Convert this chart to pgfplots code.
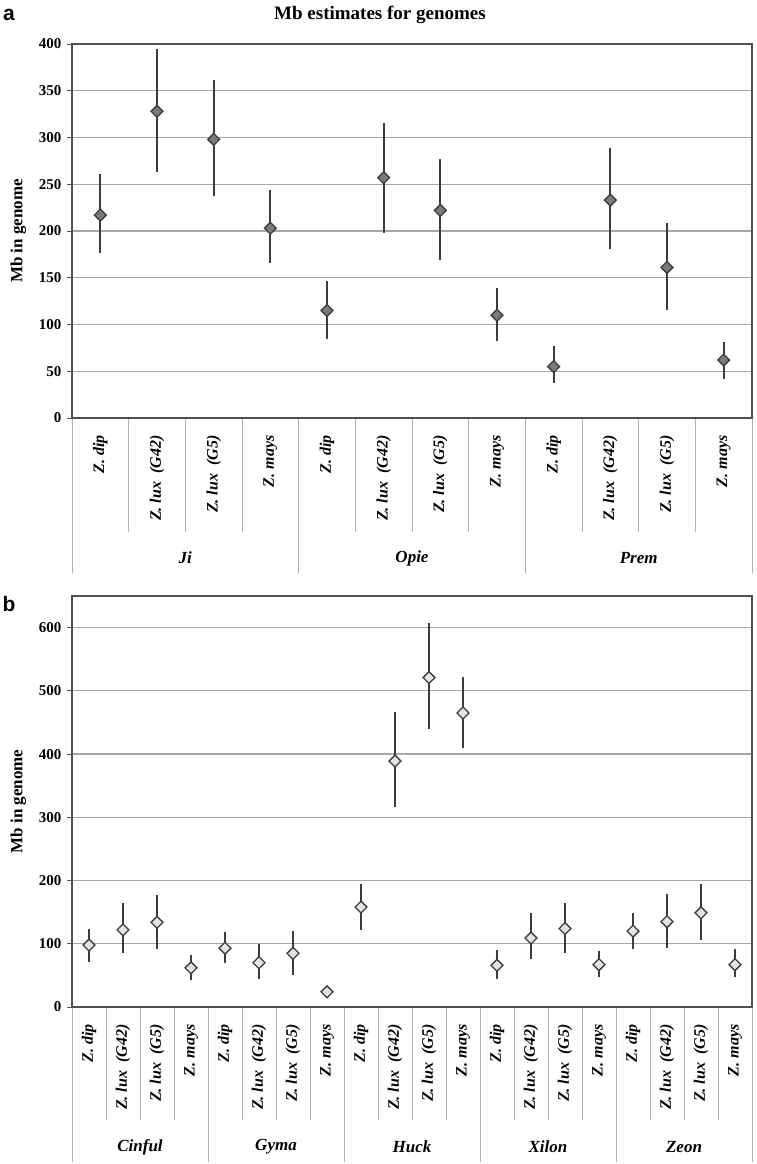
\documentclass[border=0pt]{standalone}
\usepackage{pgfplots}
\usepackage{pgfplotstable}
\pgfplotsset{compat=1.18}
\usepackage{fontspec}
\setmainfont{Liberation Serif}
\newfontfamily\sansf{Liberation Sans}
\definecolor{gridc}{HTML}{A8A8A8}
\definecolor{sepc}{HTML}{B4B4B4}
\definecolor{errc}{HTML}{3C3C3C}
\definecolor{markA}{HTML}{7A7A7A}
\definecolor{markB}{HTML}{E4E4E4}
\definecolor{axc}{HTML}{505050}

\pgfplotstableread{
x y ep em
1 217 44 40
2 328 67 65
3 298 64 61
4 203 41 37
5 115 32 30
6 257 59 59
7 222 55 53
8 110 29 28
9 55 22 18
10 233 56 52
11 161 48 46
12 62 19 20
}\dataA

\pgfplotstableread{
x y ep em
1 98 26 27
2 122 42 37
3 134 43 42
4 62 20 19
5 93 26 24
6 70 30 25
7 85 35 34
8 24 6 5
9 158 37 36
10 389 78 72
11 521 86 82
12 465 57 55
13 66 24 21
14 109 40 33
15 124 41 39
16 67 22 19
17 120 29 29
18 135 43 41
19 149 45 43
20 67 24 20
}\dataB

\newcommand{\tfont}{\fontsize{15}{15}\selectfont\bfseries}
\newcommand{\cfont}{\fontsize{16}{16}\selectfont\bfseries\itshape}
\newcommand{\gfont}{\fontsize{17}{17}\selectfont\bfseries\itshape}

\pgfplotsset{
  mainax/.style={
    scale only axis, width=680pt, ymin=0, clip=false,
    axis line style={draw=axc, line width=1.3pt},
    ymajorgrids, grid style={draw=gridc, line width=1.2pt},
    xtick=\empty, ytick pos=left, tick align=outside,
    major tick length=5pt, ytick style={draw=axc, line width=1pt},
    yticklabel style={font=\tfont, xshift=-2pt},
    /pgf/number format/assume math mode=true,
    ylabel style={font=\fontsize{17}{17}\selectfont\bfseries, at={(axis description cs:-0.079,0.5)}, anchor=center},
  },
  sepax/.style={
    scale only axis, width=680pt, ymin=0, hide y axis,
    axis line style={draw=none}, xtick pos=bottom, tick align=outside,
  },
  errs/.style={only marks, mark=none,
    error bars/.cd, y dir=both, y explicit,
    error mark=none, error bar style={draw=errc, line width=1.7pt}},
}

\begin{document}
\begin{tikzpicture}
\path[use as bounding box] (0,0) rectangle (757pt,-1164pt);
\node[font=\fontsize{19}{19}\selectfont\bfseries] at (380pt,-15pt) {Mb estimates for genomes};
\node[font=\sansf\fontsize{21}{21}\selectfont\bfseries] at (9pt,-15pt) {a};
\node[font=\sansf\fontsize{21}{21}\selectfont\bfseries] at (9pt,-604pt) {b};

% ---------- panel a ----------
\begin{axis}[sepax, at={(72pt,-418pt)}, anchor=south west, height=374pt,
  xmin=0.5, xmax=12.5, ymax=400,
  xtick={1,...,12}, major tick length=0pt,
  xticklabels={Z. dip, Z. lux~~(G42), Z. lux~~(G5), Z. mays, Z. dip, Z. lux~~(G42), Z. lux~~(G5), Z. mays, Z. dip, Z. lux~~(G42), Z. lux~~(G5), Z. mays},
  xticklabel style={rotate=90, anchor=east, font=\cfont}, xticklabel shift=14pt,
  minor xtick={1.5,2.5,...,11.5}, minor tick length=114pt,
  minor x tick style={draw=sepc, line width=1pt}]
\addplot[draw=none] coordinates {(1,0)};
\end{axis}
\begin{axis}[sepax, at={(72pt,-418pt)}, anchor=south west, height=374pt,
  xmin=0.5, xmax=12.5, ymax=400,
  xtick={0.5,4.5,8.5,12.5}, xticklabels={}, major tick length=155pt,
  xtick style={draw=sepc, line width=1pt}]
\addplot[draw=none] coordinates {(1,0)};
\end{axis}
\begin{axis}[mainax, at={(72pt,-418pt)}, anchor=south west, height=374pt,
  xmin=0.5, xmax=12.5, ymax=400, ytick={0,50,...,400},
  ylabel={Mb in genome}]
\addplot[errs] table[x=x, y=y, y error plus=ep, y error minus=em] {\dataA};
\addplot[only marks, mark=square*, mark size=4.2pt,
  mark options={rotate=45, fill=markA, draw=errc, line width=1.3pt}] table[x=x, y=y] {\dataA};
\node[font=\gfont] at (axis cs:2.5,0) [yshift=-140pt] {Ji};
\node[font=\gfont] at (axis cs:6.5,0) [yshift=-140pt] {Opie};
\node[font=\gfont] at (axis cs:10.5,0) [yshift=-140pt] {Prem};
\end{axis}

% ---------- panel b ----------
\begin{axis}[sepax, at={(72pt,-1007pt)}, anchor=south west, height=411pt,
  xmin=0.5, xmax=20.5, ymax=650,
  xtick={1,...,20}, major tick length=0pt,
  xticklabels={Z. dip, Z. lux~~(G42), Z. lux~~(G5), Z. mays, Z. dip, Z. lux~~(G42), Z. lux~~(G5), Z. mays, Z. dip, Z. lux~~(G42), Z. lux~~(G5), Z. mays, Z. dip, Z. lux~~(G42), Z. lux~~(G5), Z. mays, Z. dip, Z. lux~~(G42), Z. lux~~(G5), Z. mays},
  xticklabel style={rotate=90, anchor=east, font=\cfont}, xticklabel shift=14pt,
  minor xtick={1.5,2.5,...,19.5}, minor tick length=113pt,
  minor x tick style={draw=sepc, line width=1pt}]
\addplot[draw=none] coordinates {(1,0)};
\end{axis}
\begin{axis}[sepax, at={(72pt,-1007pt)}, anchor=south west, height=411pt,
  xmin=0.5, xmax=20.5, ymax=650,
  xtick={0.5,4.5,8.5,12.5,16.5,20.5}, xticklabels={}, major tick length=155pt,
  xtick style={draw=sepc, line width=1pt}]
\addplot[draw=none] coordinates {(1,0)};
\end{axis}
\begin{axis}[mainax, at={(72pt,-1007pt)}, anchor=south west, height=411pt,
  xmin=0.5, xmax=20.5, ymax=650, ytick={0,100,...,600},
  ylabel={Mb in genome}]
\addplot[errs] table[x=x, y=y, y error plus=ep, y error minus=em] {\dataB};
\addplot[only marks, mark=square*, mark size=4.2pt,
  mark options={rotate=45, fill=markB, draw=errc, line width=1.3pt}] table[x=x, y=y] {\dataB};
\node[font=\gfont] at (axis cs:2.5,0) [yshift=-140pt] {Cinful};
\node[font=\gfont] at (axis cs:6.5,0) [yshift=-140pt] {Gyma};
\node[font=\gfont] at (axis cs:10.5,0) [yshift=-140pt] {Huck};
\node[font=\gfont] at (axis cs:14.5,0) [yshift=-140pt] {Xilon};
\node[font=\gfont] at (axis cs:18.5,0) [yshift=-140pt] {Zeon};
\end{axis}
\end{tikzpicture}
\end{document}
